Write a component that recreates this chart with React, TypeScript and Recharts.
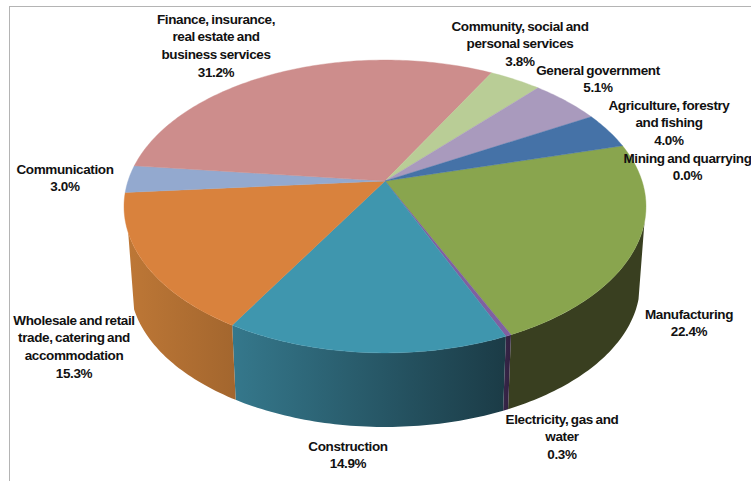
import React from 'react'
import { PieChart, Pie } from 'recharts'

// GDP share by sector, clockwise from the mining slice
const SECTORS = [
  'Mining and quarrying',
  'Manufacturing',
  'Electricity, gas and water',
  'Construction',
  'Wholesale and retail trade, catering and accommodation',
  'Communication',
  'Finance, insurance, real estate and business services',
  'Community, social and personal services',
  'General government',
  'Agriculture, forestry and fishing',
]
const SHARES = [0.0, 22.4, 0.3, 14.9, 15.3, 3.0, 31.2, 3.8, 5.1, 4.0]

const TOP_COLORS = ['#7F7F7F', '#89A54E', '#7F60A1', '#3F96AE', '#D9823D', '#93A9CF', '#CD8D8C', '#B9CD96', '#A99ABD', '#4572A7']
const WALL_FROM = ['#555555', '#393F20', '#382648', '#35788C', '#BD7736', '#7A8CAB', '#A87272', '#94A578', '#8A7D9A', '#365A85']
const WALL_TO = ['#555555', '#393F20', '#302040', '#1B3B46', '#A3662E', '#7A8CAB', '#A87272', '#94A578', '#8A7D9A', '#365A85']

// wrapped label text with the centre of each block's lines
const LABEL_LINES = [
  ['Mining and quarrying'],
  ['Manufacturing'],
  ['Electricity, gas and', 'water'],
  ['Construction'],
  ['Wholesale and retail', 'trade, catering and', 'accommodation'],
  ['Communication'],
  ['Finance, insurance,', 'real estate and', 'business services'],
  ['Community, social and', 'personal services'],
  ['General government'],
  ['Agriculture, forestry', 'and fishing'],
]
const LABEL_X = [687.5, 689, 562, 348, 74, 65, 216, 520, 598, 669]
const LABEL_Y = [158, 314, 419, 446, 320, 169, 19, 26, 70, 105]
const LINE_GAP = 17.6

const chartData = SECTORS.map((name, i) => ({
  name,
  value: SHARES[i],
  fill: TOP_COLORS[i],
  wallFrom: WALL_FROM[i],
  wallTo: WALL_TO[i],
}))

// perspective of the disc: foreshortening, vanishing strength, lower rim
const TILT = 0.5525
const PERSPECTIVE = 0.174
const RIM_SCALE = 0.977
const RIM_DROP = 78
const WALL_MIN = -160
const WALL_MAX = -16

function project(p: any, deg: number, scale = 1, drop = 0) {
  const rad = (deg * Math.PI) / 180
  const u = Math.cos(rad)
  const v = -Math.sin(rad)
  const w = 1 - PERSPECTIVE * v
  const x = p.cx + (scale * p.outerRadius * u) / w
  const y = p.cy + drop + (scale * p.outerRadius * TILT * v) / w
  return `${x.toFixed(2)},${y.toFixed(2)}`
}

function arcPoints(p: any, from: number, to: number, scale = 1, drop = 0) {
  const steps = Math.max(1, Math.ceil(Math.abs(to - from)))
  const pts: string[] = []
  for (let i = 0; i <= steps; i++) {
    pts.push(project(p, from + ((to - from) * i) / steps, scale, drop))
  }
  return pts
}

function TopFace(props: any) {
  const { startAngle, endAngle, cx, cy, fill } = props
  if (startAngle === endAngle) return <g />
  const pts = [`${cx},${cy}`, ...arcPoints(props, startAngle, endAngle)]
  return <polygon points={pts.join(' ')} fill={fill} stroke={fill} strokeWidth={0.4} />
}

function WallFace(props: any) {
  const lo = Math.max(Math.min(props.startAngle, props.endAngle), WALL_MIN)
  const hi = Math.min(Math.max(props.startAngle, props.endAngle), WALL_MAX)
  if (hi <= lo) return <g />
  const id = `wall-${props.index ?? props.name.length}`
  const outer = arcPoints(props, lo, hi)
  const inner = arcPoints(props, hi, lo, RIM_SCALE, RIM_DROP)
  return (
    <g>
      <defs>
        <linearGradient id={id} x1="0" y1="0" x2="1" y2="0">
          <stop offset="0%" stopColor={props.wallFrom} />
          <stop offset="100%" stopColor={props.wallTo} />
        </linearGradient>
      </defs>
      <polygon points={[...outer, ...inner].join(' ')} fill={`url(#${id})`} />
    </g>
  )
}

function SectorLabel(props: any) {
  const i = props.index
  const lines = [...LABEL_LINES[i], `${SHARES[i].toFixed(1)}%`]
  return (
    <text
      textAnchor="middle"
      fontFamily="'Liberation Sans', Arial, sans-serif"
      fontSize={13.5}
      fontWeight={700}
      letterSpacing={-0.38}
      wordSpacing={-0.8}
      fill="#111"
    >
      {lines.map((line, n) => (
        <tspan key={n} x={LABEL_X[i]} y={LABEL_Y[i] + 4.8 + n * LINE_GAP}>
          {line}
        </tspan>
      ))}
    </text>
  )
}

export default function App() {
  return (
    <div style={{ position: 'absolute', left: 0, top: 0, width: 751, height: 481, overflow: 'hidden', background: '#fff' }}>
      <div
        style={{
          position: 'absolute',
          left: 9,
          top: 6,
          width: 742,
          height: 475,
          borderTop: '1.5px solid #B4B4B4',
          borderLeft: '1.5px solid #B4B4B4',
          boxSizing: 'border-box',
        }}
      />
      <div style={{ position: 'absolute', left: 0, top: 0 }}>
        <PieChart width={751} height={481} margin={{ top: 0, right: 0, bottom: 0, left: 0 }}>
          <Pie
            data={chartData}
            dataKey="value"
            nameKey="name"
            cx={385}
            cy={181}
            outerRadius={257}
            startAngle={15}
            endAngle={-345}
            stroke="none"
            shape={WallFace}
            isAnimationActive={false}
          />
          <Pie
            data={chartData}
            dataKey="value"
            nameKey="name"
            cx={385}
            cy={181}
            outerRadius={257}
            startAngle={15}
            endAngle={-345}
            stroke="none"
            shape={TopFace}
            label={SectorLabel}
            labelLine={false}
            isAnimationActive={false}
          />
        </PieChart>
      </div>
    </div>
  )
}
